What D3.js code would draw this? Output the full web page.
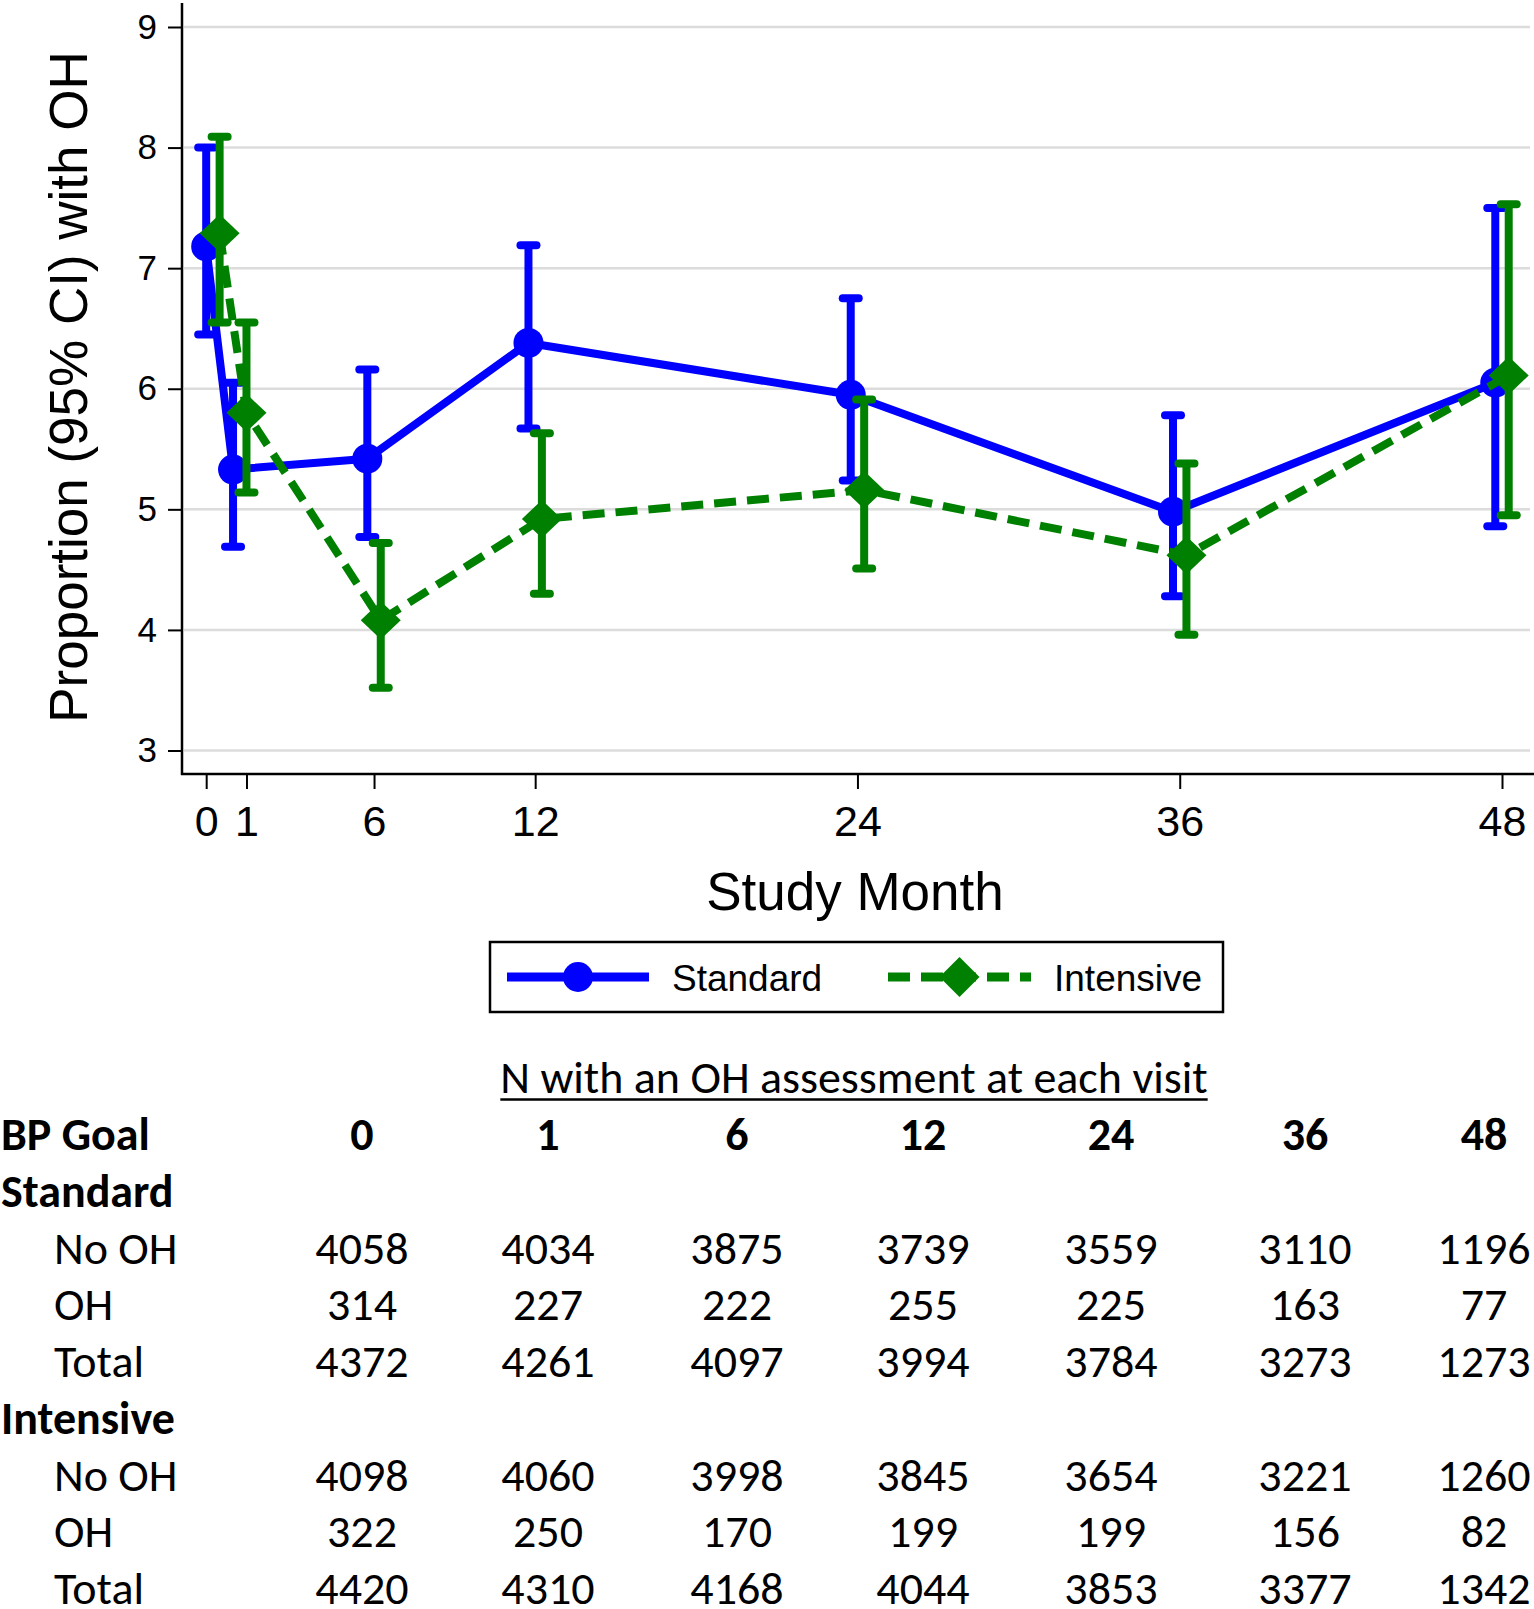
<!DOCTYPE html>
<html><head><meta charset="utf-8">
<script src="https://cdn.jsdelivr.net/npm/d3@7"></script>
<style>body{margin:0;background:#fff;} svg{display:block;background:#fff;}</style>
</head><body><svg id="chart" width="1534" height="1609"></svg>
<script>
// ---------- data ----------
const months = [0, 1, 6, 12, 24, 36, 48];
const standardMean  = [7.18, 5.33, 5.42, 6.38, 5.95, 4.98, 6.05];
const standardLower = [6.45, 4.69, 4.77, 5.67, 5.24, 4.28, 4.86];
const standardUpper = [8.00, 6.05, 6.16, 7.19, 6.75, 5.78, 7.50];
const intensiveMean  = [7.29, 5.80, 4.08, 4.92, 5.16, 4.62, 6.11];
const intensiveLower = [6.55, 5.14, 3.52, 4.30, 4.51, 3.96, 4.95];
const intensiveUpper = [8.09, 6.55, 4.72, 5.63, 5.91, 5.38, 7.53];
const xTickValues = [-0.25, 1.25, 6, 12, 24, 36, 48];
const xTickLabels = ["0", "1", "6", "12", "24", "36", "48"];
const yTickValues = [3, 4, 5, 6, 7, 8, 9];
const seriesNames = ["Standard", "Intensive"];
const tableTitle = "N with an OH assessment at each visit";
const tableColumns = ["0", "1", "6", "12", "24", "36", "48"];
const stdNoOH  = [4058, 4034, 3875, 3739, 3559, 3110, 1196];
const stdOH    = [314, 227, 222, 255, 225, 163, 77];
const stdTotal = [4372, 4261, 4097, 3994, 3784, 3273, 1273];
const intNoOH  = [4098, 4060, 3998, 3845, 3654, 3221, 1260];
const intOH    = [322, 250, 170, 199, 199, 156, 82];
const intTotal = [4420, 4310, 4168, 4044, 3853, 3377, 1342];

// ---------- setup ----------
const svg = d3.select("#chart");
const AX = "'Liberation Sans', Arial, sans-serif";
const TF = "Carlito, Calibri, Lato, sans-serif";
const BLUE = "#0000ff", GREEN = "#008000";

const x = d3.scaleLinear().domain([0, 48]).range([212.9, 1502]);
const y = d3.scaleLinear().domain([3, 9]).range([750.5, 27]);
const axisX = 182, axisY = 774;

// gridlines
svg.append("g").selectAll("line").data(yTickValues).join("line")
  .attr("x1", axisX + 2).attr("x2", 1530)
  .attr("y1", d => y(d)).attr("y2", d => y(d))
  .attr("stroke", "#dcdcdc").attr("stroke-width", 2.5);

// y axis
const gy = svg.append("g").attr("transform", `translate(${axisX},0)`)
  .call(d3.axisLeft(y).tickValues(yTickValues).tickSize(14).tickPadding(11).tickFormat(d3.format("d")));
gy.select(".domain").remove();
gy.attr("font-family", AX).attr("font-size", 35);
gy.selectAll(".tick line").attr("stroke", "#000").attr("stroke-width", 2);
gy.selectAll(".tick text").attr("fill", "#000");
svg.append("line").attr("x1", axisX).attr("x2", axisX).attr("y1", 3).attr("y2", axisY + 1)
  .attr("stroke", "#000").attr("stroke-width", 2.5);

// x axis
const gx = svg.append("g").attr("transform", `translate(0,${axisY})`)
  .call(d3.axisBottom(x).tickValues(xTickValues).tickSize(15).tickPadding(16.5)
    .tickFormat((d, i) => xTickLabels[i]));
gx.select(".domain").remove();
gx.attr("font-family", AX).attr("font-size", 43);
gx.selectAll(".tick line").attr("stroke", "#000").attr("stroke-width", 2);
gx.selectAll(".tick text").attr("fill", "#000");
svg.append("line").attr("x1", axisX - 1).attr("x2", 1534).attr("y1", axisY).attr("y2", axisY)
  .attr("stroke", "#000").attr("stroke-width", 2.5);

// axis titles
svg.append("text").attr("transform", "translate(87,387) rotate(-90)")
  .attr("text-anchor", "middle").attr("font-family", AX).attr("font-size", 53)
  .text("Proportion (95% CI) with OH");
svg.append("text").attr("x", 855).attr("y", 910).attr("text-anchor", "middle")
  .attr("font-family", AX).attr("font-size", 53).text("Study Month");

// ---------- series ----------
function buildSeries(mean, lo, hi, offset) {
  return months.map((m, i) => ({ m: m + offset, v: mean[i], lo: lo[i], hi: hi[i] }));
}
const series = [
  { name: seriesNames[0], color: BLUE, dash: null, marker: "circle",
    data: buildSeries(standardMean, standardLower, standardUpper, -0.25) },
  { name: seriesNames[1], color: GREEN, dash: "22,11", marker: "diamond",
    data: buildSeries(intensiveMean, intensiveLower, intensiveUpper, 0.25) }
];
const diamond = (hw, hh) => `M0,${-hh}L${hw},0L0,${hh}L${-hw},0Z`;
const line = d3.line().x(d => x(d.m)).y(d => y(d.v));

series.forEach(s => {
  const g = svg.append("g");
  const eb = g.append("g").selectAll("g").data(s.data).join("g");
  eb.append("line").attr("x1", d => x(d.m)).attr("x2", d => x(d.m))
    .attr("y1", d => y(d.hi)).attr("y2", d => y(d.lo))
    .attr("stroke", s.color).attr("stroke-width", 8);
  ["hi", "lo"].forEach(k => {
    eb.append("line").attr("x1", d => x(d.m) - 8).attr("x2", d => x(d.m) + 8)
      .attr("y1", d => y(d[k])).attr("y2", d => y(d[k]))
      .attr("stroke", s.color).attr("stroke-width", 8).attr("stroke-linecap", "round");
  });
  g.append("path").datum(s.data).attr("d", line).attr("fill", "none")
    .attr("stroke", s.color).attr("stroke-width", 8)
    .attr("stroke-dasharray", s.dash).attr("stroke-linejoin", "round");
  if (s.marker === "circle") {
    g.append("g").selectAll("circle").data(s.data).join("circle")
      .attr("cx", d => x(d.m)).attr("cy", d => y(d.v)).attr("r", 15).attr("fill", s.color);
  } else {
    g.append("g").selectAll("path").data(s.data).join("path")
      .attr("transform", d => `translate(${x(d.m)},${y(d.v)})`)
      .attr("d", diamond(20, 19)).attr("fill", s.color);
  }
});

// ---------- legend ----------
const lg = svg.append("g");
lg.append("rect").attr("x", 490).attr("y", 942).attr("width", 733).attr("height", 70)
  .attr("fill", "#fff").attr("stroke", "#000").attr("stroke-width", 2.5);
const legendItems = [
  { s: series[0], x0: 507, x1: 649, tx: 672 },
  { s: series[1], x0: 888, x1: 1031, tx: 1054 }
];
legendItems.forEach(it => {
  const cy = 977, cx = (it.x0 + it.x1) / 2;
  lg.append("line").attr("x1", it.x0).attr("x2", it.x1).attr("y1", cy).attr("y2", cy)
    .attr("stroke", it.s.color).attr("stroke-width", 9).attr("stroke-dasharray", it.s.dash);
  if (it.s.marker === "circle") {
    lg.append("circle").attr("cx", cx).attr("cy", cy).attr("r", 15).attr("fill", it.s.color);
  } else {
    lg.append("path").attr("transform", `translate(${cx},${cy})`).attr("d", diamond(20, 20))
      .attr("fill", it.s.color);
  }
  lg.append("text").attr("x", it.tx).attr("y", 991).attr("font-family", AX).attr("font-size", 37)
    .text(it.s.name);
});

// ---------- table ----------
const tableRows = [
  { label: "BP Goal", bold: true, indent: false, values: tableColumns },
  { label: "Standard", bold: true, indent: false, values: null },
  { label: "No OH", indent: true, values: stdNoOH },
  { label: "OH", indent: true, values: stdOH },
  { label: "Total", indent: true, values: stdTotal },
  { label: "Intensive", bold: true, indent: false, values: null },
  { label: "No OH", indent: true, values: intNoOH },
  { label: "OH", indent: true, values: intOH },
  { label: "Total", indent: true, values: intTotal }
];
const colX = d3.scaleOrdinal().domain(tableColumns).range([362, 548, 737, 923, 1111, 1305, 1484]);
const rowY = d3.scalePoint().domain(d3.range(tableRows.length)).range([1150, 1604]);
const tg = svg.append("g").attr("font-family", TF).attr("font-size", 46).attr("fill", "#000");

const title = tg.append("text").attr("x", 854).attr("y", 1093).attr("text-anchor", "middle")
  .text(tableTitle);
const bb = title.node().getBBox();
tg.append("line").attr("x1", bb.x).attr("x2", bb.x + bb.width).attr("y1", 1099.5).attr("y2", 1099.5)
  .attr("stroke", "#000").attr("stroke-width", 2.5);

tableRows.forEach((r, i) => {
  const yy = rowY(i);
  tg.append("text").attr("x", r.indent ? 54 : 1).attr("y", yy)
    .attr("font-weight", r.bold ? 700 : 400).text(r.label);
  if (r.values) {
    r.values.forEach((v, j) => {
      tg.append("text").attr("x", colX(tableColumns[j])).attr("y", yy)
        .attr("text-anchor", "middle").attr("font-weight", i === 0 ? 700 : 400).text(v);
    });
  }
});
</script>
</body></html>
